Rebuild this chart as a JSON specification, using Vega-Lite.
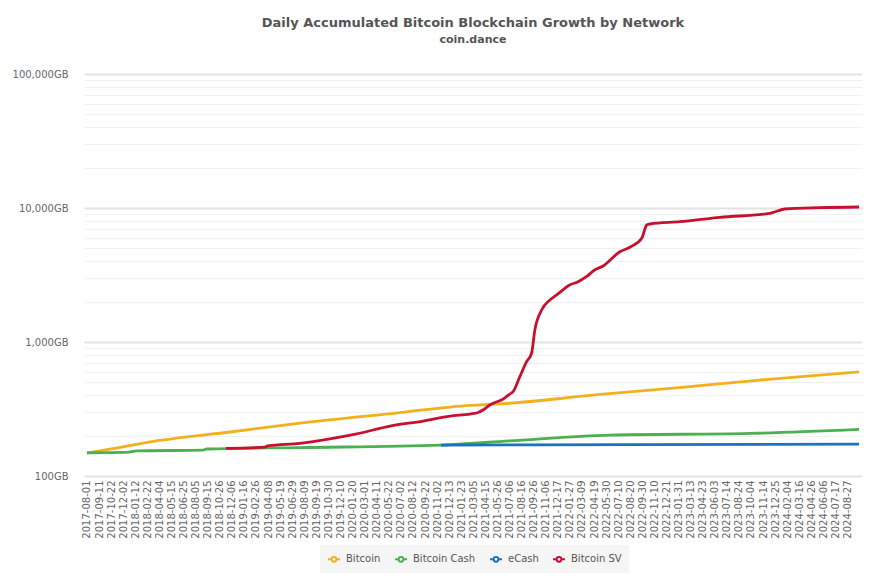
{
  "$schema": "https://vega.github.io/schema/vega-lite/v6.json",
  "width": 778,
  "height": 402,
  "autosize": {"type": "none"},
  "padding": {"left": 84, "top": 74, "right": 15, "bottom": 109},
  "background": "white",
  "title": {
    "text": "Daily Accumulated Bitcoin Blockchain Growth by Network",
    "subtitle": "coin.dance",
    "anchor": "middle",
    "font": "DejaVu Sans",
    "fontSize": 13,
    "fontWeight": "bold",
    "color": "#555555",
    "subtitleFont": "DejaVu Sans",
    "subtitleFontSize": 11,
    "subtitleFontWeight": "bold",
    "subtitleColor": "#555555",
    "subtitlePadding": 4,
    "offset": 24
  },
  "config": {"view": {"stroke": null}, "font": "DejaVu Sans"},
  "data": {
    "values": [
      {"date": "2017-08-01", "series": "Bitcoin", "gb": 149},
      {"date": "2017-12-02", "series": "Bitcoin", "gb": 165},
      {"date": "2018-03-03", "series": "Bitcoin", "gb": 180},
      {"date": "2018-06-13", "series": "Bitcoin", "gb": 193},
      {"date": "2018-11-30", "series": "Bitcoin", "gb": 213},
      {"date": "2019-04-03", "series": "Bitcoin", "gb": 231},
      {"date": "2019-07-19", "series": "Bitcoin", "gb": 247},
      {"date": "2020-06-29", "series": "Bitcoin", "gb": 297},
      {"date": "2021-02-21", "series": "Bitcoin", "gb": 337},
      {"date": "2021-06-03", "series": "Bitcoin", "gb": 345},
      {"date": "2022-05-09", "series": "Bitcoin", "gb": 406},
      {"date": "2023-01-02", "series": "Bitcoin", "gb": 450},
      {"date": "2023-04-13", "series": "Bitcoin", "gb": 472},
      {"date": "2023-11-03", "series": "Bitcoin", "gb": 520},
      {"date": "2024-10-05", "series": "Bitcoin", "gb": 598},

      {"date": "2017-08-01", "series": "Bitcoin Cash", "gb": 149},
      {"date": "2017-12-14", "series": "Bitcoin Cash", "gb": 150},
      {"date": "2018-01-18", "series": "Bitcoin Cash", "gb": 154},
      {"date": "2018-08-30", "series": "Bitcoin Cash", "gb": 156},
      {"date": "2018-09-12", "series": "Bitcoin Cash", "gb": 159},
      {"date": "2019-07-25", "series": "Bitcoin Cash", "gb": 163},
      {"date": "2020-11-12", "series": "Bitcoin Cash", "gb": 170},
      {"date": "2021-07-07", "series": "Bitcoin Cash", "gb": 183},
      {"date": "2022-06-12", "series": "Bitcoin Cash", "gb": 202},
      {"date": "2023-10-01", "series": "Bitcoin Cash", "gb": 208},
      {"date": "2024-10-05", "series": "Bitcoin Cash", "gb": 223},

      {"date": "2020-11-15", "series": "eCash", "gb": 170},
      {"date": "2022-08-01", "series": "eCash", "gb": 171.5},
      {"date": "2024-10-05", "series": "eCash", "gb": 173},

      {"date": "2018-11-16", "series": "Bitcoin SV", "gb": 161},
      {"date": "2019-03-28", "series": "Bitcoin SV", "gb": 164},
      {"date": "2019-04-07", "series": "Bitcoin SV", "gb": 167.5},
      {"date": "2019-07-25", "series": "Bitcoin SV", "gb": 175},
      {"date": "2019-11-04", "series": "Bitcoin SV", "gb": 189},
      {"date": "2020-02-03", "series": "Bitcoin SV", "gb": 206},
      {"date": "2020-05-26", "series": "Bitcoin SV", "gb": 236},
      {"date": "2020-09-16", "series": "Bitcoin SV", "gb": 257},
      {"date": "2020-12-16", "series": "Bitcoin SV", "gb": 280},
      {"date": "2021-02-22", "series": "Bitcoin SV", "gb": 290},
      {"date": "2021-03-21", "series": "Bitcoin SV", "gb": 298},
      {"date": "2021-04-07", "series": "Bitcoin SV", "gb": 311},
      {"date": "2021-04-30", "series": "Bitcoin SV", "gb": 339},
      {"date": "2021-06-14", "series": "Bitcoin SV", "gb": 375},
      {"date": "2021-07-07", "series": "Bitcoin SV", "gb": 409},
      {"date": "2021-07-18", "series": "Bitcoin SV", "gb": 426},
      {"date": "2021-08-10", "series": "Bitcoin SV", "gb": 551},
      {"date": "2021-09-02", "series": "Bitcoin SV", "gb": 713},
      {"date": "2021-09-19", "series": "Bitcoin SV", "gb": 824},
      {"date": "2021-09-30", "series": "Bitcoin SV", "gb": 1229},
      {"date": "2021-10-23", "series": "Bitcoin SV", "gb": 1733},
      {"date": "2021-11-20", "series": "Bitcoin SV", "gb": 2058},
      {"date": "2021-12-13", "series": "Bitcoin SV", "gb": 2243},
      {"date": "2022-01-26", "series": "Bitcoin SV", "gb": 2664},
      {"date": "2022-02-24", "series": "Bitcoin SV", "gb": 2818},
      {"date": "2022-03-24", "series": "Bitcoin SV", "gb": 3072},
      {"date": "2022-04-21", "series": "Bitcoin SV", "gb": 3446},
      {"date": "2022-05-20", "series": "Bitcoin SV", "gb": 3692},
      {"date": "2022-07-16", "series": "Bitcoin SV", "gb": 4719},
      {"date": "2022-08-19", "series": "Bitcoin SV", "gb": 5090},
      {"date": "2022-09-28", "series": "Bitcoin SV", "gb": 5940},
      {"date": "2022-10-15", "series": "Bitcoin SV", "gb": 7467},
      {"date": "2022-10-26", "series": "Bitcoin SV", "gb": 7597},
      {"date": "2023-02-05", "series": "Bitcoin SV", "gb": 7904},
      {"date": "2023-06-21", "series": "Bitcoin SV", "gb": 8523},
      {"date": "2023-12-07", "series": "Bitcoin SV", "gb": 9129},
      {"date": "2024-01-27", "series": "Bitcoin SV", "gb": 9829},
      {"date": "2024-05-25", "series": "Bitcoin SV", "gb": 10052},
      {"date": "2024-10-05", "series": "Bitcoin SV", "gb": 10174}
    ]
  },
  "mark": {"type": "line", "strokeWidth": 2.8, "interpolate": "monotone"},
  "encoding": {
    "x": {
      "field": "date",
      "type": "temporal",
      "scale": {
        "type": "utc",
        "domain": [
          {"year": 2017, "month": 7, "date": 22, "utc": true},
          {"year": 2024, "month": 10, "date": 15, "utc": true}
        ]
      },
      "axis": {
        "title": null,
        "format": "%Y-%m-%d",
        "labelAngle": -90,
        "labelPadding": 4,
        "labelFontSize": 10,
        "labelColor": "#666666",
        "labelOverlap": false,
        "labelFlush": false,
        "grid": false,
        "domain": false,
        "ticks": false,
        "values": [
          {"year": 2017, "month": 8, "date": 1, "utc": true},
          {"year": 2017, "month": 9, "date": 11, "utc": true},
          {"year": 2017, "month": 10, "date": 22, "utc": true},
          {"year": 2017, "month": 12, "date": 2, "utc": true},
          {"year": 2018, "month": 1, "date": 12, "utc": true},
          {"year": 2018, "month": 2, "date": 22, "utc": true},
          {"year": 2018, "month": 4, "date": 4, "utc": true},
          {"year": 2018, "month": 5, "date": 15, "utc": true},
          {"year": 2018, "month": 6, "date": 25, "utc": true},
          {"year": 2018, "month": 8, "date": 5, "utc": true},
          {"year": 2018, "month": 9, "date": 15, "utc": true},
          {"year": 2018, "month": 10, "date": 26, "utc": true},
          {"year": 2018, "month": 12, "date": 6, "utc": true},
          {"year": 2019, "month": 1, "date": 16, "utc": true},
          {"year": 2019, "month": 2, "date": 26, "utc": true},
          {"year": 2019, "month": 4, "date": 8, "utc": true},
          {"year": 2019, "month": 5, "date": 19, "utc": true},
          {"year": 2019, "month": 6, "date": 29, "utc": true},
          {"year": 2019, "month": 8, "date": 9, "utc": true},
          {"year": 2019, "month": 9, "date": 19, "utc": true},
          {"year": 2019, "month": 10, "date": 30, "utc": true},
          {"year": 2019, "month": 12, "date": 10, "utc": true},
          {"year": 2020, "month": 1, "date": 20, "utc": true},
          {"year": 2020, "month": 3, "date": 1, "utc": true},
          {"year": 2020, "month": 4, "date": 11, "utc": true},
          {"year": 2020, "month": 5, "date": 22, "utc": true},
          {"year": 2020, "month": 7, "date": 2, "utc": true},
          {"year": 2020, "month": 8, "date": 12, "utc": true},
          {"year": 2020, "month": 9, "date": 22, "utc": true},
          {"year": 2020, "month": 11, "date": 2, "utc": true},
          {"year": 2020, "month": 12, "date": 13, "utc": true},
          {"year": 2021, "month": 1, "date": 23, "utc": true},
          {"year": 2021, "month": 3, "date": 5, "utc": true},
          {"year": 2021, "month": 4, "date": 15, "utc": true},
          {"year": 2021, "month": 5, "date": 26, "utc": true},
          {"year": 2021, "month": 7, "date": 6, "utc": true},
          {"year": 2021, "month": 8, "date": 16, "utc": true},
          {"year": 2021, "month": 9, "date": 26, "utc": true},
          {"year": 2021, "month": 11, "date": 6, "utc": true},
          {"year": 2021, "month": 12, "date": 17, "utc": true},
          {"year": 2022, "month": 1, "date": 27, "utc": true},
          {"year": 2022, "month": 3, "date": 9, "utc": true},
          {"year": 2022, "month": 4, "date": 19, "utc": true},
          {"year": 2022, "month": 5, "date": 30, "utc": true},
          {"year": 2022, "month": 7, "date": 10, "utc": true},
          {"year": 2022, "month": 8, "date": 20, "utc": true},
          {"year": 2022, "month": 9, "date": 30, "utc": true},
          {"year": 2022, "month": 11, "date": 10, "utc": true},
          {"year": 2022, "month": 12, "date": 21, "utc": true},
          {"year": 2023, "month": 1, "date": 31, "utc": true},
          {"year": 2023, "month": 3, "date": 13, "utc": true},
          {"year": 2023, "month": 4, "date": 23, "utc": true},
          {"year": 2023, "month": 6, "date": 3, "utc": true},
          {"year": 2023, "month": 7, "date": 14, "utc": true},
          {"year": 2023, "month": 8, "date": 24, "utc": true},
          {"year": 2023, "month": 10, "date": 4, "utc": true},
          {"year": 2023, "month": 11, "date": 14, "utc": true},
          {"year": 2023, "month": 12, "date": 25, "utc": true},
          {"year": 2024, "month": 2, "date": 4, "utc": true},
          {"year": 2024, "month": 3, "date": 16, "utc": true},
          {"year": 2024, "month": 4, "date": 26, "utc": true},
          {"year": 2024, "month": 6, "date": 6, "utc": true},
          {"year": 2024, "month": 7, "date": 17, "utc": true},
          {"year": 2024, "month": 8, "date": 27, "utc": true}
        ]
      }
    },
    "y": {
      "field": "gb",
      "type": "quantitative",
      "scale": {"type": "log", "domain": [100, 100000]},
      "axis": {
        "title": null,
        "values": [100, 200, 300, 400, 500, 600, 700, 800, 900, 1000, 2000, 3000, 4000, 5000, 6000, 7000, 8000, 9000, 10000, 20000, 30000, 40000, 50000, 60000, 70000, 80000, 90000, 100000],
        "labelExpr": "indexof([100, 1000, 10000, 100000], datum.value) >= 0 ? format(datum.value, ',') + 'GB' : ''",
        "domain": false,
        "ticks": false,
        "labelPadding": 16,
        "labelFontSize": 10,
        "labelColor": "#666666",
        "labelOverlap": false,
        "gridColor": {"condition": {"test": "indexof([100, 1000, 10000, 100000], datum.value) >= 0", "value": "#e3e3e3"}, "value": "#f0f0f0"},
        "gridWidth": {"condition": {"test": "indexof([100, 1000, 10000, 100000], datum.value) >= 0", "value": 2}, "value": 1}
      }
    },
    "color": {
      "field": "series",
      "type": "nominal",
      "scale": {
        "domain": ["Bitcoin", "Bitcoin Cash", "eCash", "Bitcoin SV"],
        "range": ["#f2b11c", "#4caf50", "#1873c4", "#c8102e"]
      },
      "legend": {
        "title": null,
        "orient": "none",
        "legendX": 236,
        "legendY": 471,
        "direction": "horizontal",
        "fillColor": "#f5f5f5",
        "padding": 7,
        "symbolType": "M-1,0H-0.4M0.4,0H1M-0.4,0A0.4,0.4,0,1,1,0.4,0A0.4,0.4,0,1,1,-0.4,0",
        "symbolSize": 144,
        "symbolStrokeWidth": 2,
        "symbolFillColor": "white",
        "labelFontSize": 10,
        "labelColor": "#555555",
        "labelOffset": 5,
        "columnPadding": 10
      }
    }
  }
}
